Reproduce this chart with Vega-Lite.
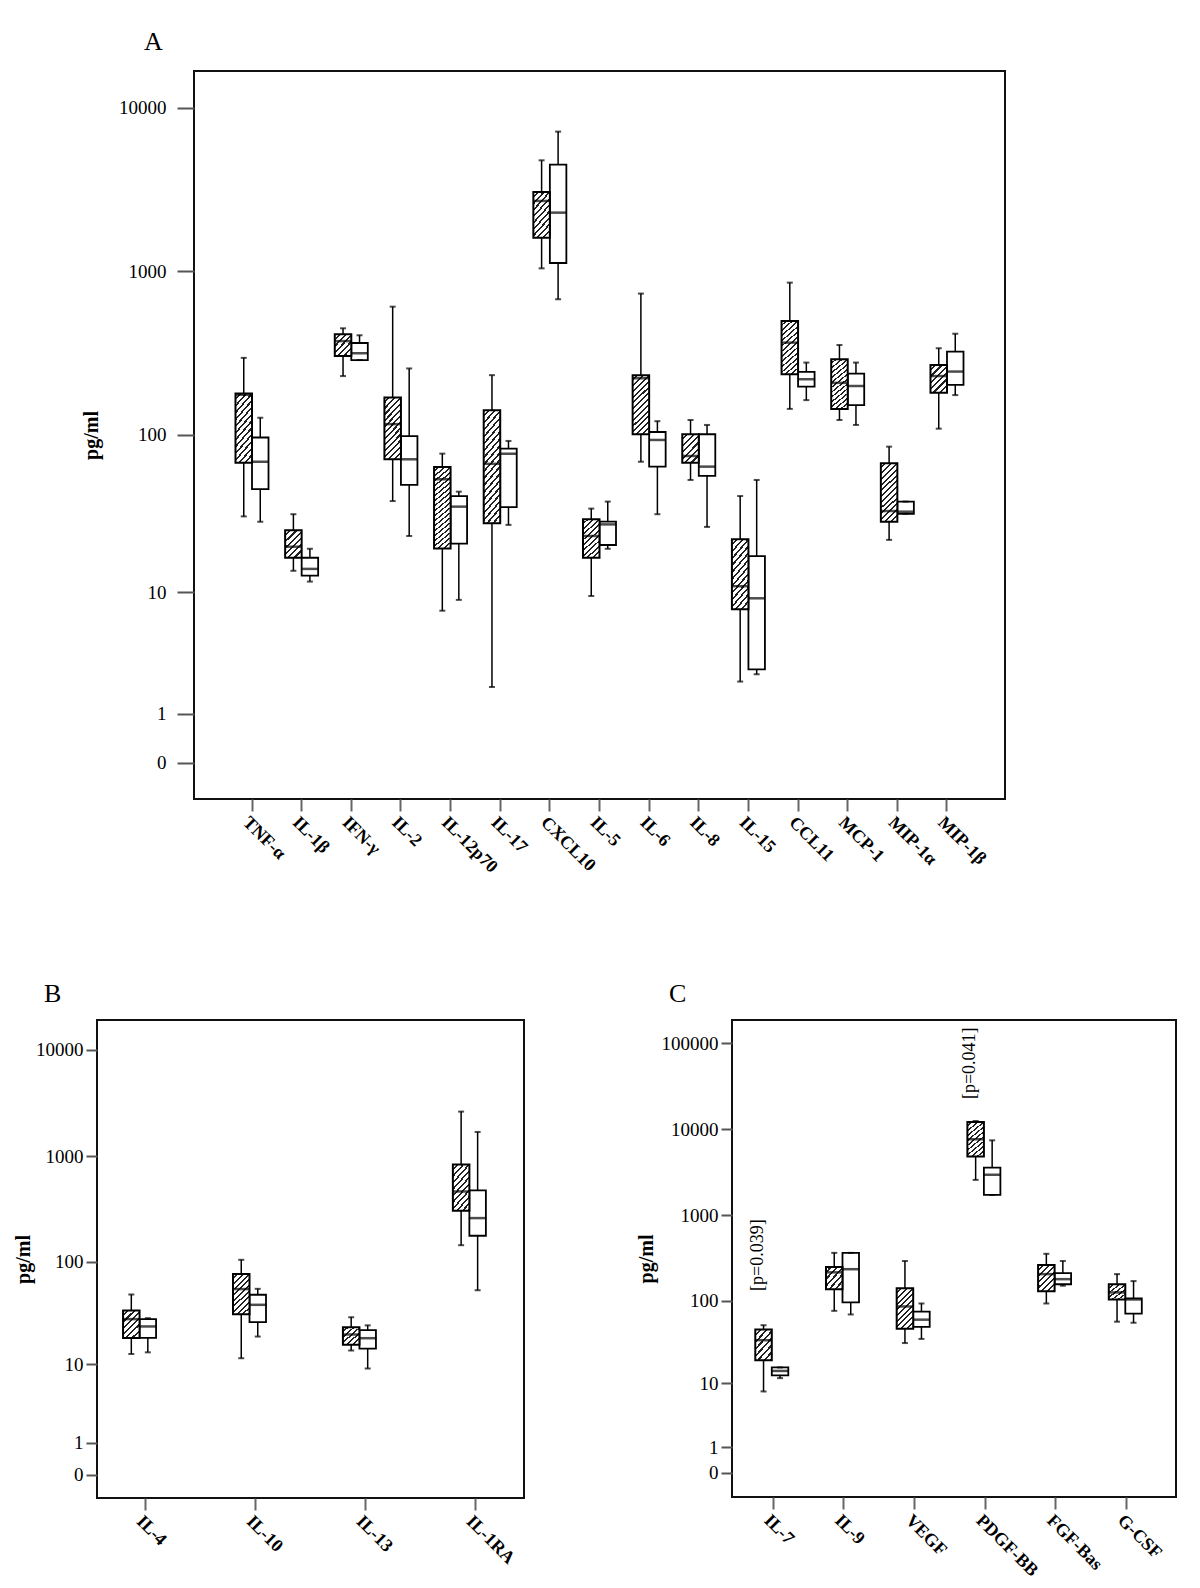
{
 "$schema": "https://vega.github.io/schema/vega-lite/v6.json",
 "padding": {"left": 11, "top": 28, "right": 5, "bottom": 5},
 "background": "white",
 "config": {
  "font": "Liberation Serif",
  "view": {"stroke": "#111", "strokeWidth": 2},
  "axis": {"grid": false, "domain": false, "labelColor": "black", "labelFont": "Liberation Serif", "titleFont": "Liberation Serif", "titleColor": "black", "tickColor": "#555", "tickWidth": 2},
  "title": {"font": "Liberation Serif", "fontSize": 26, "fontWeight": "normal", "anchor": "start", "frame": "group", "baseline": "bottom", "color": "black"}
 },
 "datasets": {
  "A": [
   {"cytokine":"TNF-α","group":"Patients","min":31,"q1":67,"median":176,"q3":179,"max":296},
   {"cytokine":"TNF-α","group":"Controls","min":28.7,"q1":46,"median":68,"q3":96,"max":127},
   {"cytokine":"IL-1β","group":"Patients","min":13.9,"q1":16.9,"median":19.9,"q3":25.3,"max":32},
   {"cytokine":"IL-1β","group":"Controls","min":11.8,"q1":12.9,"median":14.3,"q3":16.9,"max":19.3},
   {"cytokine":"IFN-γ","group":"Patients","min":229,"q1":304,"median":375,"q3":413,"max":449},
   {"cytokine":"IFN-γ","group":"Controls","min":287,"q1":287,"median":316,"q3":365,"max":407},
   {"cytokine":"IL-2","group":"Patients","min":38.7,"q1":70.4,"median":116,"q3":169,"max":609},
   {"cytokine":"IL-2","group":"Controls","min":23.3,"q1":48.8,"median":70.4,"q3":98,"max":255},
   {"cytokine":"IL-12p70","group":"Patients","min":7.5,"q1":19.4,"median":52.9,"q3":63,"max":76.3},
   {"cytokine":"IL-12p70","group":"Controls","min":8.9,"q1":20.8,"median":35.7,"q3":41.6,"max":44.3},
   {"cytokine":"IL-17","group":"Patients","min":1.91,"q1":28.1,"median":66,"q3":141,"max":232},
   {"cytokine":"IL-17","group":"Controls","min":27.4,"q1":35.5,"median":76.2,"q3":81.9,"max":91.4},
   {"cytokine":"CXCL10","group":"Patients","min":1044,"q1":1605,"median":2694,"q3":3056,"max":4770},
   {"cytokine":"CXCL10","group":"Controls","min":676,"q1":1126,"median":2286,"q3":4488,"max":7140},
   {"cytokine":"IL-5","group":"Patients","min":9.45,"q1":16.9,"median":23.3,"q3":29.7,"max":34.7},
   {"cytokine":"IL-5","group":"Controls","min":19.3,"q1":20.4,"median":27.6,"q3":28.7,"max":38.4},
   {"cytokine":"IL-6","group":"Patients","min":68,"q1":100.5,"median":222,"q3":231.6,"max":732},
   {"cytokine":"IL-6","group":"Controls","min":32,"q1":63.4,"median":92.7,"q3":103.8,"max":121},
   {"cytokine":"IL-8","group":"Patients","min":52.4,"q1":67,"median":73.8,"q3":100.5,"max":123},
   {"cytokine":"IL-8","group":"Controls","min":26.6,"q1":55.5,"median":63.4,"q3":100.5,"max":114.7},
   {"cytokine":"IL-15","group":"Patients","min":2.14,"q1":7.67,"median":11,"q3":22.2,"max":41.6},
   {"cytokine":"IL-15","group":"Controls","min":2.48,"q1":2.73,"median":9.12,"q3":17.3,"max":52.4},
   {"cytokine":"CCL11","group":"Patients","min":144,"q1":235,"median":367,"q3":498,"max":854},
   {"cytokine":"CCL11","group":"Controls","min":163,"q1":197,"median":219,"q3":243,"max":277},
   {"cytokine":"MCP-1","group":"Patients","min":123,"q1":144,"median":208,"q3":290,"max":355},
   {"cytokine":"MCP-1","group":"Controls","min":114.7,"q1":152,"median":199,"q3":237,"max":277},
   {"cytokine":"MIP-1α","group":"Patients","min":22,"q1":28.7,"median":33.5,"q3":66.5,"max":84.3},
   {"cytokine":"MIP-1α","group":"Controls","min":32.2,"q1":32.2,"median":33.2,"q3":38.4,"max":38.4},
   {"cytokine":"MIP-1β","group":"Patients","min":108.8,"q1":181,"median":229,"q3":268,"max":339},
   {"cytokine":"MIP-1β","group":"Controls","min":175,"q1":202,"median":244,"q3":323,"max":416}
  ],
  "B": [
   {"cytokine":"IL-4","group":"Patients","min":12.7,"q1":18.4,"median":28.2,"q3":34.2,"max":48.8},
   {"cytokine":"IL-4","group":"Controls","min":13.2,"q1":18.4,"median":23.9,"q3":28.2,"max":28.8},
   {"cytokine":"IL-10","group":"Patients","min":11.5,"q1":31.5,"median":55,"q3":76.5,"max":104.6},
   {"cytokine":"IL-10","group":"Controls","min":19,"q1":26.4,"median":38.8,"q3":48.5,"max":55.3},
   {"cytokine":"IL-13","group":"Patients","min":13.8,"q1":15.7,"median":19.9,"q3":23.5,"max":29.4},
   {"cytokine":"IL-13","group":"Controls","min":9,"q1":14.4,"median":18.3,"q3":22,"max":24.5},
   {"cytokine":"IL-1RA","group":"Patients","min":144,"q1":305,"median":464,"q3":834,"max":2627},
   {"cytokine":"IL-1RA","group":"Controls","min":53.6,"q1":177,"median":260,"q3":476,"max":1689}
  ],
  "C": [
   {"cytokine":"IL-7","group":"Patients","min":7.9,"q1":19.5,"median":34.1,"q3":45.7,"max":51.5},
   {"cytokine":"IL-7","group":"Controls","min":11.7,"q1":12.7,"median":14.4,"q3":15.9,"max":15.9},
   {"cytokine":"IL-9","group":"Patients","min":76,"q1":136.7,"median":215,"q3":249,"max":363},
   {"cytokine":"IL-9","group":"Controls","min":68.9,"q1":95.4,"median":234,"q3":363,"max":363},
   {"cytokine":"VEGF","group":"Patients","min":31.5,"q1":46.6,"median":85.6,"q3":140,"max":292},
   {"cytokine":"VEGF","group":"Controls","min":35.3,"q1":49.2,"median":59.8,"q3":74.5,"max":92.8},
   {"cytokine":"PDGF-BB","group":"Patients","min":2570,"q1":4800,"median":7640,"q3":12100,"max":12450},
   {"cytokine":"PDGF-BB","group":"Controls","min":1716,"q1":1716,"median":2950,"q3":3570,"max":7420},
   {"cytokine":"FGF-Bas","group":"Patients","min":92.8,"q1":129,"median":205,"q3":262,"max":354},
   {"cytokine":"FGF-Bas","group":"Controls","min":150,"q1":156,"median":179,"q3":211,"max":292},
   {"cytokine":"G-CSF","group":"Patients","min":56.6,"q1":103.5,"median":125,"q3":156,"max":205},
   {"cytokine":"G-CSF","group":"Controls","min":55,"q1":70.6,"median":103.5,"q3":106.5,"max":170}
  ],
  "Cnote": [
   {"cytokine":"IL-7","group":"Patients","pos":130,"label":"[p=0.039]"},
   {"cytokine":"PDGF-BB","group":"Patients","pos":22440,"label":"[p=0.041]"}
  ]
 },
 "spacing": 103,
 "vconcat": [
  {
   "spacing": 0,
   "hconcat": [
    {"width": 69, "height": 10, "data": {"values": []}, "mark": {"type": "point", "opacity": 0}, "view": {"stroke": null}},
    {
     "width": 811, "height": 728,
     "data": {"name": "A"},
     "title": {"text": "A", "dx": -50, "offset": 16},
     "encoding": {
      "x": {"field": "cytokine", "type": "nominal", "sort": ["TNF-α","IL-1β","IFN-γ","IL-2","IL-12p70","IL-17","CXCL10","IL-5","IL-6","IL-8","IL-15","CCL11","MCP-1","MIP-1α","MIP-1β"], "scale": {"paddingInner": 0.335, "paddingOuter": 0.836},
            "axis": {"title": null, "labelAngle": 45, "labelAlign": "left", "labelBaseline": "top", "labelFontSize": 18, "labelFontWeight": "bold", "tickSize": 12, "labelPadding": 2, "tickColor": "#666", "labelOverlap": false}},
      "xOffset": {"field": "group", "type": "nominal", "sort": ["Patients","Controls"], "scale": {"paddingInner": 0, "paddingOuter": 0}}
     },
     "layer": [
      {"mark": {"type": "rule", "color": "black", "strokeWidth": 1.5},
       "encoding": {"y": {"field": "min", "type": "quantitative", "title": "pg/ml",
         "scale": {"type": "symlog", "constant": 1, "domain": [-0.659, 16740], "nice": false, "zero": false},
         "axis": {"values": [0,1,10,100,1000,10000], "format": "d", "titleFontSize": 20, "titleFontWeight": "bold", "titlePadding": 17, "labelFontSize": 19, "labelPadding": 11, "tickSize": 17}},
        "y2": {"field": "max"}}},
      {"transform": [{"filter": "datum.group==='Controls'"}],
       "mark": {"type": "bar", "fill": "white", "stroke": "black", "strokeWidth": 1.8},
       "encoding": {"y": {"field": "q1", "type": "quantitative", "title": "pg/ml"}, "y2": {"field": "q3"}}},
      {"transform": [{"filter": "datum.group==='Patients' && log((1+datum.q3)/(1+datum.q1)) < 0.344"}],
       "mark": {"type": "bar", "stroke": "black", "strokeWidth": 2, "fill": {"gradient":"linear","x1":0,"y1":0,"x2":0.896,"y2":1.086,"stops":[
        {"offset":0,"color":"#fff"},{"offset":0.1083,"color":"#fff"},{"offset":0.1083,"color":"#222"},{"offset":0.1667,"color":"#222"},
        {"offset":0.1667,"color":"#fff"},{"offset":0.275,"color":"#fff"},{"offset":0.275,"color":"#222"},{"offset":0.3333,"color":"#222"},
        {"offset":0.3333,"color":"#fff"},{"offset":0.4417,"color":"#fff"},{"offset":0.4417,"color":"#222"},{"offset":0.5,"color":"#222"},
        {"offset":0.5,"color":"#fff"},{"offset":0.6083,"color":"#fff"},{"offset":0.6083,"color":"#222"},{"offset":0.6667,"color":"#222"},
        {"offset":0.6667,"color":"#fff"},{"offset":0.775,"color":"#fff"},{"offset":0.775,"color":"#222"},{"offset":0.8333,"color":"#222"},
        {"offset":0.8333,"color":"#fff"},{"offset":0.9417,"color":"#fff"},{"offset":0.9417,"color":"#222"},{"offset":1,"color":"#222"}]}},
       "encoding": {"y": {"field": "q1", "type": "quantitative", "title": "pg/ml"}, "y2": {"field": "q3"}}},
      {"transform": [{"filter": "datum.group==='Patients' && log((1+datum.q3)/(1+datum.q1)) >= 0.344 && log((1+datum.q3)/(1+datum.q1)) < 0.464"}],
       "mark": {"type": "bar", "stroke": "black", "strokeWidth": 2, "fill": {"gradient":"linear","x1":0,"y1":0,"x2":0.695,"y2":1.18,"stops":[
        {"offset":0,"color":"#fff"},{"offset":0.0929,"color":"#fff"},{"offset":0.0929,"color":"#222"},{"offset":0.1429,"color":"#222"},
        {"offset":0.1429,"color":"#fff"},{"offset":0.2357,"color":"#fff"},{"offset":0.2357,"color":"#222"},{"offset":0.2857,"color":"#222"},
        {"offset":0.2857,"color":"#fff"},{"offset":0.3786,"color":"#fff"},{"offset":0.3786,"color":"#222"},{"offset":0.4286,"color":"#222"},
        {"offset":0.4286,"color":"#fff"},{"offset":0.5214,"color":"#fff"},{"offset":0.5214,"color":"#222"},{"offset":0.5714,"color":"#222"},
        {"offset":0.5714,"color":"#fff"},{"offset":0.6643,"color":"#fff"},{"offset":0.6643,"color":"#222"},{"offset":0.7143,"color":"#222"},
        {"offset":0.7143,"color":"#fff"},{"offset":0.8071,"color":"#fff"},{"offset":0.8071,"color":"#222"},{"offset":0.8571,"color":"#222"},
        {"offset":0.8571,"color":"#fff"},{"offset":0.95,"color":"#fff"},{"offset":0.95,"color":"#222"},{"offset":1,"color":"#222"}]}},
       "encoding": {"y": {"field": "q1", "type": "quantitative", "title": "pg/ml"}, "y2": {"field": "q3"}}},
      {"transform": [{"filter": "datum.group==='Patients' && log((1+datum.q3)/(1+datum.q1)) >= 0.464 && log((1+datum.q3)/(1+datum.q1)) < 0.689"}],
       "mark": {"type": "bar", "stroke": "black", "strokeWidth": 2, "fill": {"gradient":"linear","x1":0,"y1":0,"x2":0.485,"y2":1.207,"stops":[
        {"offset":0,"color":"#fff"},{"offset":0.065,"color":"#fff"},{"offset":0.065,"color":"#222"},{"offset":0.1,"color":"#222"},
        {"offset":0.1,"color":"#fff"},{"offset":0.165,"color":"#fff"},{"offset":0.165,"color":"#222"},{"offset":0.2,"color":"#222"},
        {"offset":0.2,"color":"#fff"},{"offset":0.265,"color":"#fff"},{"offset":0.265,"color":"#222"},{"offset":0.3,"color":"#222"},
        {"offset":0.3,"color":"#fff"},{"offset":0.365,"color":"#fff"},{"offset":0.365,"color":"#222"},{"offset":0.4,"color":"#222"},
        {"offset":0.4,"color":"#fff"},{"offset":0.465,"color":"#fff"},{"offset":0.465,"color":"#222"},{"offset":0.5,"color":"#222"},
        {"offset":0.5,"color":"#fff"},{"offset":0.565,"color":"#fff"},{"offset":0.565,"color":"#222"},{"offset":0.6,"color":"#222"},
        {"offset":0.6,"color":"#fff"},{"offset":0.665,"color":"#fff"},{"offset":0.665,"color":"#222"},{"offset":0.7,"color":"#222"},
        {"offset":0.7,"color":"#fff"},{"offset":0.765,"color":"#fff"},{"offset":0.765,"color":"#222"},{"offset":0.8,"color":"#222"},
        {"offset":0.8,"color":"#fff"},{"offset":0.865,"color":"#fff"},{"offset":0.865,"color":"#222"},{"offset":0.9,"color":"#222"},
        {"offset":0.9,"color":"#fff"},{"offset":0.965,"color":"#fff"},{"offset":0.965,"color":"#222"},{"offset":1,"color":"#222"}]}},
       "encoding": {"y": {"field": "q1", "type": "quantitative", "title": "pg/ml"}, "y2": {"field": "q3"}}},
      {"transform": [{"filter": "datum.group==='Patients' && log((1+datum.q3)/(1+datum.q1)) >= 0.689 && log((1+datum.q3)/(1+datum.q1)) < 1.054"}],
       "mark": {"type": "bar", "stroke": "black", "strokeWidth": 2, "fill": {"gradient":"linear","x1":0,"y1":0,"x2":0.326,"y2":1.185,"stops":[
        {"offset":0,"color":"#fff"},{"offset":0.05,"color":"#fff"},{"offset":0.05,"color":"#222"},{"offset":0.0769,"color":"#222"},
        {"offset":0.0769,"color":"#fff"},{"offset":0.1269,"color":"#fff"},{"offset":0.1269,"color":"#222"},{"offset":0.1538,"color":"#222"},
        {"offset":0.1538,"color":"#fff"},{"offset":0.2038,"color":"#fff"},{"offset":0.2038,"color":"#222"},{"offset":0.2308,"color":"#222"},
        {"offset":0.2308,"color":"#fff"},{"offset":0.2808,"color":"#fff"},{"offset":0.2808,"color":"#222"},{"offset":0.3077,"color":"#222"},
        {"offset":0.3077,"color":"#fff"},{"offset":0.3577,"color":"#fff"},{"offset":0.3577,"color":"#222"},{"offset":0.3846,"color":"#222"},
        {"offset":0.3846,"color":"#fff"},{"offset":0.4346,"color":"#fff"},{"offset":0.4346,"color":"#222"},{"offset":0.4615,"color":"#222"},
        {"offset":0.4615,"color":"#fff"},{"offset":0.5115,"color":"#fff"},{"offset":0.5115,"color":"#222"},{"offset":0.5385,"color":"#222"},
        {"offset":0.5385,"color":"#fff"},{"offset":0.5885,"color":"#fff"},{"offset":0.5885,"color":"#222"},{"offset":0.6154,"color":"#222"},
        {"offset":0.6154,"color":"#fff"},{"offset":0.6654,"color":"#fff"},{"offset":0.6654,"color":"#222"},{"offset":0.6923,"color":"#222"},
        {"offset":0.6923,"color":"#fff"},{"offset":0.7423,"color":"#fff"},{"offset":0.7423,"color":"#222"},{"offset":0.7692,"color":"#222"},
        {"offset":0.7692,"color":"#fff"},{"offset":0.8192,"color":"#fff"},{"offset":0.8192,"color":"#222"},{"offset":0.8462,"color":"#222"},
        {"offset":0.8462,"color":"#fff"},{"offset":0.8962,"color":"#fff"},{"offset":0.8962,"color":"#222"},{"offset":0.9231,"color":"#222"},
        {"offset":0.9231,"color":"#fff"},{"offset":0.9731,"color":"#fff"},{"offset":0.9731,"color":"#222"},{"offset":1,"color":"#222"}]}},
       "encoding": {"y": {"field": "q1", "type": "quantitative", "title": "pg/ml"}, "y2": {"field": "q3"}}},
      {"transform": [{"filter": "datum.group==='Patients' && log((1+datum.q3)/(1+datum.q1)) >= 1.054"}],
       "mark": {"type": "bar", "stroke": "black", "strokeWidth": 2, "fill": {"gradient":"linear","x1":0,"y1":0,"x2":0.193,"y2":1.137,"stops":[
        {"offset":0,"color":"#fff"},{"offset":0.0342,"color":"#fff"},{"offset":0.0342,"color":"#222"},{"offset":0.0526,"color":"#222"},
        {"offset":0.0526,"color":"#fff"},{"offset":0.0868,"color":"#fff"},{"offset":0.0868,"color":"#222"},{"offset":0.1053,"color":"#222"},
        {"offset":0.1053,"color":"#fff"},{"offset":0.1395,"color":"#fff"},{"offset":0.1395,"color":"#222"},{"offset":0.1579,"color":"#222"},
        {"offset":0.1579,"color":"#fff"},{"offset":0.1921,"color":"#fff"},{"offset":0.1921,"color":"#222"},{"offset":0.2105,"color":"#222"},
        {"offset":0.2105,"color":"#fff"},{"offset":0.2447,"color":"#fff"},{"offset":0.2447,"color":"#222"},{"offset":0.2632,"color":"#222"},
        {"offset":0.2632,"color":"#fff"},{"offset":0.2974,"color":"#fff"},{"offset":0.2974,"color":"#222"},{"offset":0.3158,"color":"#222"},
        {"offset":0.3158,"color":"#fff"},{"offset":0.35,"color":"#fff"},{"offset":0.35,"color":"#222"},{"offset":0.3684,"color":"#222"},
        {"offset":0.3684,"color":"#fff"},{"offset":0.4026,"color":"#fff"},{"offset":0.4026,"color":"#222"},{"offset":0.4211,"color":"#222"},
        {"offset":0.4211,"color":"#fff"},{"offset":0.4553,"color":"#fff"},{"offset":0.4553,"color":"#222"},{"offset":0.4737,"color":"#222"},
        {"offset":0.4737,"color":"#fff"},{"offset":0.5079,"color":"#fff"},{"offset":0.5079,"color":"#222"},{"offset":0.5263,"color":"#222"},
        {"offset":0.5263,"color":"#fff"},{"offset":0.5605,"color":"#fff"},{"offset":0.5605,"color":"#222"},{"offset":0.5789,"color":"#222"},
        {"offset":0.5789,"color":"#fff"},{"offset":0.6131,"color":"#fff"},{"offset":0.6131,"color":"#222"},{"offset":0.6316,"color":"#222"},
        {"offset":0.6316,"color":"#fff"},{"offset":0.6658,"color":"#fff"},{"offset":0.6658,"color":"#222"},{"offset":0.6842,"color":"#222"},
        {"offset":0.6842,"color":"#fff"},{"offset":0.7184,"color":"#fff"},{"offset":0.7184,"color":"#222"},{"offset":0.7368,"color":"#222"},
        {"offset":0.7368,"color":"#fff"},{"offset":0.771,"color":"#fff"},{"offset":0.771,"color":"#222"},{"offset":0.7895,"color":"#222"},
        {"offset":0.7895,"color":"#fff"},{"offset":0.8237,"color":"#fff"},{"offset":0.8237,"color":"#222"},{"offset":0.8421,"color":"#222"},
        {"offset":0.8421,"color":"#fff"},{"offset":0.8763,"color":"#fff"},{"offset":0.8763,"color":"#222"},{"offset":0.8947,"color":"#222"},
        {"offset":0.8947,"color":"#fff"},{"offset":0.9289,"color":"#fff"},{"offset":0.9289,"color":"#222"},{"offset":0.9474,"color":"#222"},
        {"offset":0.9474,"color":"#fff"},{"offset":0.9816,"color":"#fff"},{"offset":0.9816,"color":"#222"},{"offset":1,"color":"#222"}]}},
       "encoding": {"y": {"field": "q1", "type": "quantitative", "title": "pg/ml"}, "y2": {"field": "q3"}}},
      {"mark": {"type": "tick", "color": "black", "size": 16.5, "thickness": 2.5},
       "encoding": {"y": {"field": "median", "type": "quantitative", "title": "pg/ml"}}},
      {"mark": {"type": "tick", "color": "black", "size": 6, "thickness": 2},
       "encoding": {"y": {"field": "min", "type": "quantitative", "title": "pg/ml"}}},
      {"mark": {"type": "tick", "color": "black", "size": 6, "thickness": 2},
       "encoding": {"y": {"field": "max", "type": "quantitative", "title": "pg/ml"}}}
     ]
    }
   ]
  },
  {
   "spacing": 0,
   "hconcat": [
    {"width": 1, "height": 10, "data": {"values": []}, "mark": {"type": "point", "opacity": 0}, "view": {"stroke": null}},
    {
     "spacing": 110,
     "hconcat": [
      {
       "width": 427, "height": 478,
       "data": {"name": "B"},
       "title": {"text": "B", "dx": -53, "offset": 13},
       "encoding": {
        "x": {"field": "cytokine", "type": "nominal", "sort": ["IL-4","IL-10","IL-13","IL-1RA"], "scale": {"paddingInner": 0.59, "paddingOuter": 0.237},
              "axis": {"title": null, "labelAngle": 45, "labelAlign": "left", "labelBaseline": "top", "labelFontSize": 18, "labelFontWeight": "bold", "tickSize": 12, "labelPadding": 2, "tickColor": "#666", "labelOverlap": false}},
        "xOffset": {"field": "group", "type": "nominal", "sort": ["Patients","Controls"], "scale": {"paddingInner": 0.364, "paddingOuter": 0}}
       },
       "layer": [
        {"mark": {"type": "rule", "color": "black", "strokeWidth": 1.5},
         "encoding": {"y": {"field": "min", "type": "quantitative", "title": "pg/ml",
           "scale": {"type": "symlog", "constant": 1, "domain": [-0.657, 19150], "nice": false, "zero": false},
           "axis": {"values": [0,1,10,100,1000,10000], "format": "d", "titleFontSize": 20, "titleFontWeight": "bold", "titlePadding": 2, "labelFontSize": 19, "labelPadding": 3, "tickSize": 11}},
          "y2": {"field": "max"}}},
        {"transform": [{"filter": "datum.group==='Controls'"}],
         "mark": {"type": "bar", "fill": "white", "stroke": "black", "strokeWidth": 1.8},
         "encoding": {"y": {"field": "q1", "type": "quantitative", "title": "pg/ml"}, "y2": {"field": "q3"}}},
        {"transform": [{"filter": "datum.group==='Patients' && log((1+datum.q3)/(1+datum.q1)) < 0.531"}],
         "mark": {"type": "bar", "stroke": "black", "strokeWidth": 2, "fill": {"gradient":"linear","x1":0,"y1":0,"x2":0.896,"y2":1.086,"stops":[
          {"offset":0,"color":"#fff"},{"offset":0.1083,"color":"#fff"},{"offset":0.1083,"color":"#222"},{"offset":0.1667,"color":"#222"},
          {"offset":0.1667,"color":"#fff"},{"offset":0.275,"color":"#fff"},{"offset":0.275,"color":"#222"},{"offset":0.3333,"color":"#222"},
          {"offset":0.3333,"color":"#fff"},{"offset":0.4417,"color":"#fff"},{"offset":0.4417,"color":"#222"},{"offset":0.5,"color":"#222"},
          {"offset":0.5,"color":"#fff"},{"offset":0.6083,"color":"#fff"},{"offset":0.6083,"color":"#222"},{"offset":0.6667,"color":"#222"},
          {"offset":0.6667,"color":"#fff"},{"offset":0.775,"color":"#fff"},{"offset":0.775,"color":"#222"},{"offset":0.8333,"color":"#222"},
          {"offset":0.8333,"color":"#fff"},{"offset":0.9417,"color":"#fff"},{"offset":0.9417,"color":"#222"},{"offset":1,"color":"#222"}]}},
         "encoding": {"y": {"field": "q1", "type": "quantitative", "title": "pg/ml"}, "y2": {"field": "q3"}}},
        {"transform": [{"filter": "datum.group==='Patients' && log((1+datum.q3)/(1+datum.q1)) >= 0.531 && log((1+datum.q3)/(1+datum.q1)) < 0.715"}],
         "mark": {"type": "bar", "stroke": "black", "strokeWidth": 2, "fill": {"gradient":"linear","x1":0,"y1":0,"x2":0.695,"y2":1.18,"stops":[
          {"offset":0,"color":"#fff"},{"offset":0.0929,"color":"#fff"},{"offset":0.0929,"color":"#222"},{"offset":0.1429,"color":"#222"},
          {"offset":0.1429,"color":"#fff"},{"offset":0.2357,"color":"#fff"},{"offset":0.2357,"color":"#222"},{"offset":0.2857,"color":"#222"},
          {"offset":0.2857,"color":"#fff"},{"offset":0.3786,"color":"#fff"},{"offset":0.3786,"color":"#222"},{"offset":0.4286,"color":"#222"},
          {"offset":0.4286,"color":"#fff"},{"offset":0.5214,"color":"#fff"},{"offset":0.5214,"color":"#222"},{"offset":0.5714,"color":"#222"},
          {"offset":0.5714,"color":"#fff"},{"offset":0.6643,"color":"#fff"},{"offset":0.6643,"color":"#222"},{"offset":0.7143,"color":"#222"},
          {"offset":0.7143,"color":"#fff"},{"offset":0.8071,"color":"#fff"},{"offset":0.8071,"color":"#222"},{"offset":0.8571,"color":"#222"},
          {"offset":0.8571,"color":"#fff"},{"offset":0.95,"color":"#fff"},{"offset":0.95,"color":"#222"},{"offset":1,"color":"#222"}]}},
         "encoding": {"y": {"field": "q1", "type": "quantitative", "title": "pg/ml"}, "y2": {"field": "q3"}}},
        {"transform": [{"filter": "datum.group==='Patients' && log((1+datum.q3)/(1+datum.q1)) >= 0.715"}],
         "mark": {"type": "bar", "stroke": "black", "strokeWidth": 2, "fill": {"gradient":"linear","x1":0,"y1":0,"x2":0.485,"y2":1.207,"stops":[
          {"offset":0,"color":"#fff"},{"offset":0.065,"color":"#fff"},{"offset":0.065,"color":"#222"},{"offset":0.1,"color":"#222"},
          {"offset":0.1,"color":"#fff"},{"offset":0.165,"color":"#fff"},{"offset":0.165,"color":"#222"},{"offset":0.2,"color":"#222"},
          {"offset":0.2,"color":"#fff"},{"offset":0.265,"color":"#fff"},{"offset":0.265,"color":"#222"},{"offset":0.3,"color":"#222"},
          {"offset":0.3,"color":"#fff"},{"offset":0.365,"color":"#fff"},{"offset":0.365,"color":"#222"},{"offset":0.4,"color":"#222"},
          {"offset":0.4,"color":"#fff"},{"offset":0.465,"color":"#fff"},{"offset":0.465,"color":"#222"},{"offset":0.5,"color":"#222"},
          {"offset":0.5,"color":"#fff"},{"offset":0.565,"color":"#fff"},{"offset":0.565,"color":"#222"},{"offset":0.6,"color":"#222"},
          {"offset":0.6,"color":"#fff"},{"offset":0.665,"color":"#fff"},{"offset":0.665,"color":"#222"},{"offset":0.7,"color":"#222"},
          {"offset":0.7,"color":"#fff"},{"offset":0.765,"color":"#fff"},{"offset":0.765,"color":"#222"},{"offset":0.8,"color":"#222"},
          {"offset":0.8,"color":"#fff"},{"offset":0.865,"color":"#fff"},{"offset":0.865,"color":"#222"},{"offset":0.9,"color":"#222"},
          {"offset":0.9,"color":"#fff"},{"offset":0.965,"color":"#fff"},{"offset":0.965,"color":"#222"},{"offset":1,"color":"#222"}]}},
         "encoding": {"y": {"field": "q1", "type": "quantitative", "title": "pg/ml"}, "y2": {"field": "q3"}}},
        {"mark": {"type": "tick", "color": "black", "size": 17.5, "thickness": 2.5},
         "encoding": {"y": {"field": "median", "type": "quantitative", "title": "pg/ml"}}},
        {"mark": {"type": "tick", "color": "black", "size": 6, "thickness": 2},
         "encoding": {"y": {"field": "min", "type": "quantitative", "title": "pg/ml"}}},
        {"mark": {"type": "tick", "color": "black", "size": 6, "thickness": 2},
         "encoding": {"y": {"field": "max", "type": "quantitative", "title": "pg/ml"}}}
       ]
      },
      {
       "width": 444, "height": 477,
       "title": {"text": "C", "dx": -63, "offset": 13},
       "encoding": {
        "x": {"field": "cytokine", "type": "nominal", "sort": ["IL-7","IL-9","VEGF","PDGF-BB","FGF-Bas","G-CSF"], "scale": {"paddingInner": 0.495, "paddingOuter": 0.3875, "align": 0.425},
              "axis": {"title": null, "labelAngle": 45, "labelAlign": "left", "labelBaseline": "top", "labelFontSize": 18, "labelFontWeight": "bold", "tickSize": 12, "labelPadding": 2, "tickColor": "#666", "labelOverlap": false}},
        "xOffset": {"field": "group", "type": "nominal", "sort": ["Patients","Controls"], "scale": {"paddingInner": 0.154, "paddingOuter": 0}}
       },
       "layer": [
        {"data": {"name": "C"},
         "mark": {"type": "rule", "color": "black", "strokeWidth": 1.5},
         "encoding": {"y": {"field": "min", "type": "quantitative", "title": "pg/ml",
           "scale": {"type": "symlog", "constant": 1, "domain": [-0.903, 186500], "nice": false, "zero": false},
           "axis": {"values": [0,1,10,100,1000,10000,100000], "format": "d", "titleFontSize": 20, "titleFontWeight": "bold", "titlePadding": 5, "labelFontSize": 19, "labelPadding": 3, "tickSize": 11}},
          "y2": {"field": "max"}}},
        {"data": {"name": "C"},
         "transform": [{"filter": "datum.group==='Controls'"}],
         "mark": {"type": "bar", "fill": "white", "stroke": "black", "strokeWidth": 1.8},
         "encoding": {"y": {"field": "q1", "type": "quantitative", "title": "pg/ml"}, "y2": {"field": "q3"}}},
        {"data": {"name": "C"},
         "transform": [{"filter": "datum.group==='Patients' && log((1+datum.q3)/(1+datum.q1)) < 0.657"}],
         "mark": {"type": "bar", "stroke": "black", "strokeWidth": 2, "fill": {"gradient":"linear","x1":0,"y1":0,"x2":0.896,"y2":1.086,"stops":[
          {"offset":0,"color":"#fff"},{"offset":0.1083,"color":"#fff"},{"offset":0.1083,"color":"#222"},{"offset":0.1667,"color":"#222"},
          {"offset":0.1667,"color":"#fff"},{"offset":0.275,"color":"#fff"},{"offset":0.275,"color":"#222"},{"offset":0.3333,"color":"#222"},
          {"offset":0.3333,"color":"#fff"},{"offset":0.4417,"color":"#fff"},{"offset":0.4417,"color":"#222"},{"offset":0.5,"color":"#222"},
          {"offset":0.5,"color":"#fff"},{"offset":0.6083,"color":"#fff"},{"offset":0.6083,"color":"#222"},{"offset":0.6667,"color":"#222"},
          {"offset":0.6667,"color":"#fff"},{"offset":0.775,"color":"#fff"},{"offset":0.775,"color":"#222"},{"offset":0.8333,"color":"#222"},
          {"offset":0.8333,"color":"#fff"},{"offset":0.9417,"color":"#fff"},{"offset":0.9417,"color":"#222"},{"offset":1,"color":"#222"}]}},
         "encoding": {"y": {"field": "q1", "type": "quantitative", "title": "pg/ml"}, "y2": {"field": "q3"}}},
        {"data": {"name": "C"},
         "transform": [{"filter": "datum.group==='Patients' && log((1+datum.q3)/(1+datum.q1)) >= 0.657 && log((1+datum.q3)/(1+datum.q1)) < 0.885"}],
         "mark": {"type": "bar", "stroke": "black", "strokeWidth": 2, "fill": {"gradient":"linear","x1":0,"y1":0,"x2":0.695,"y2":1.18,"stops":[
          {"offset":0,"color":"#fff"},{"offset":0.0929,"color":"#fff"},{"offset":0.0929,"color":"#222"},{"offset":0.1429,"color":"#222"},
          {"offset":0.1429,"color":"#fff"},{"offset":0.2357,"color":"#fff"},{"offset":0.2357,"color":"#222"},{"offset":0.2857,"color":"#222"},
          {"offset":0.2857,"color":"#fff"},{"offset":0.3786,"color":"#fff"},{"offset":0.3786,"color":"#222"},{"offset":0.4286,"color":"#222"},
          {"offset":0.4286,"color":"#fff"},{"offset":0.5214,"color":"#fff"},{"offset":0.5214,"color":"#222"},{"offset":0.5714,"color":"#222"},
          {"offset":0.5714,"color":"#fff"},{"offset":0.6643,"color":"#fff"},{"offset":0.6643,"color":"#222"},{"offset":0.7143,"color":"#222"},
          {"offset":0.7143,"color":"#fff"},{"offset":0.8071,"color":"#fff"},{"offset":0.8071,"color":"#222"},{"offset":0.8571,"color":"#222"},
          {"offset":0.8571,"color":"#fff"},{"offset":0.95,"color":"#fff"},{"offset":0.95,"color":"#222"},{"offset":1,"color":"#222"}]}},
         "encoding": {"y": {"field": "q1", "type": "quantitative", "title": "pg/ml"}, "y2": {"field": "q3"}}},
        {"data": {"name": "C"},
         "transform": [{"filter": "datum.group==='Patients' && log((1+datum.q3)/(1+datum.q1)) >= 0.885"}],
         "mark": {"type": "bar", "stroke": "black", "strokeWidth": 2, "fill": {"gradient":"linear","x1":0,"y1":0,"x2":0.485,"y2":1.207,"stops":[
          {"offset":0,"color":"#fff"},{"offset":0.065,"color":"#fff"},{"offset":0.065,"color":"#222"},{"offset":0.1,"color":"#222"},
          {"offset":0.1,"color":"#fff"},{"offset":0.165,"color":"#fff"},{"offset":0.165,"color":"#222"},{"offset":0.2,"color":"#222"},
          {"offset":0.2,"color":"#fff"},{"offset":0.265,"color":"#fff"},{"offset":0.265,"color":"#222"},{"offset":0.3,"color":"#222"},
          {"offset":0.3,"color":"#fff"},{"offset":0.365,"color":"#fff"},{"offset":0.365,"color":"#222"},{"offset":0.4,"color":"#222"},
          {"offset":0.4,"color":"#fff"},{"offset":0.465,"color":"#fff"},{"offset":0.465,"color":"#222"},{"offset":0.5,"color":"#222"},
          {"offset":0.5,"color":"#fff"},{"offset":0.565,"color":"#fff"},{"offset":0.565,"color":"#222"},{"offset":0.6,"color":"#222"},
          {"offset":0.6,"color":"#fff"},{"offset":0.665,"color":"#fff"},{"offset":0.665,"color":"#222"},{"offset":0.7,"color":"#222"},
          {"offset":0.7,"color":"#fff"},{"offset":0.765,"color":"#fff"},{"offset":0.765,"color":"#222"},{"offset":0.8,"color":"#222"},
          {"offset":0.8,"color":"#fff"},{"offset":0.865,"color":"#fff"},{"offset":0.865,"color":"#222"},{"offset":0.9,"color":"#222"},
          {"offset":0.9,"color":"#fff"},{"offset":0.965,"color":"#fff"},{"offset":0.965,"color":"#222"},{"offset":1,"color":"#222"}]}},
         "encoding": {"y": {"field": "q1", "type": "quantitative", "title": "pg/ml"}, "y2": {"field": "q3"}}},
        {"data": {"name": "C"},
         "mark": {"type": "tick", "color": "black", "size": 16.5, "thickness": 2.5},
         "encoding": {"y": {"field": "median", "type": "quantitative", "title": "pg/ml"}}},
        {"data": {"name": "C"},
         "mark": {"type": "tick", "color": "black", "size": 6, "thickness": 2},
         "encoding": {"y": {"field": "min", "type": "quantitative", "title": "pg/ml"}}},
        {"data": {"name": "C"},
         "mark": {"type": "tick", "color": "black", "size": 6, "thickness": 2},
         "encoding": {"y": {"field": "max", "type": "quantitative", "title": "pg/ml"}}},
        {"data": {"name": "Cnote"},
         "mark": {"type": "text", "angle": 270, "align": "left", "baseline": "middle", "dy": -6, "font": "Liberation Serif", "fontSize": 18, "color": "black"},
         "encoding": {"y": {"field": "pos", "type": "quantitative", "title": "pg/ml"}, "text": {"field": "label"}}}
       ]
      }
     ]
    }
   ]
  }
 ]
}
